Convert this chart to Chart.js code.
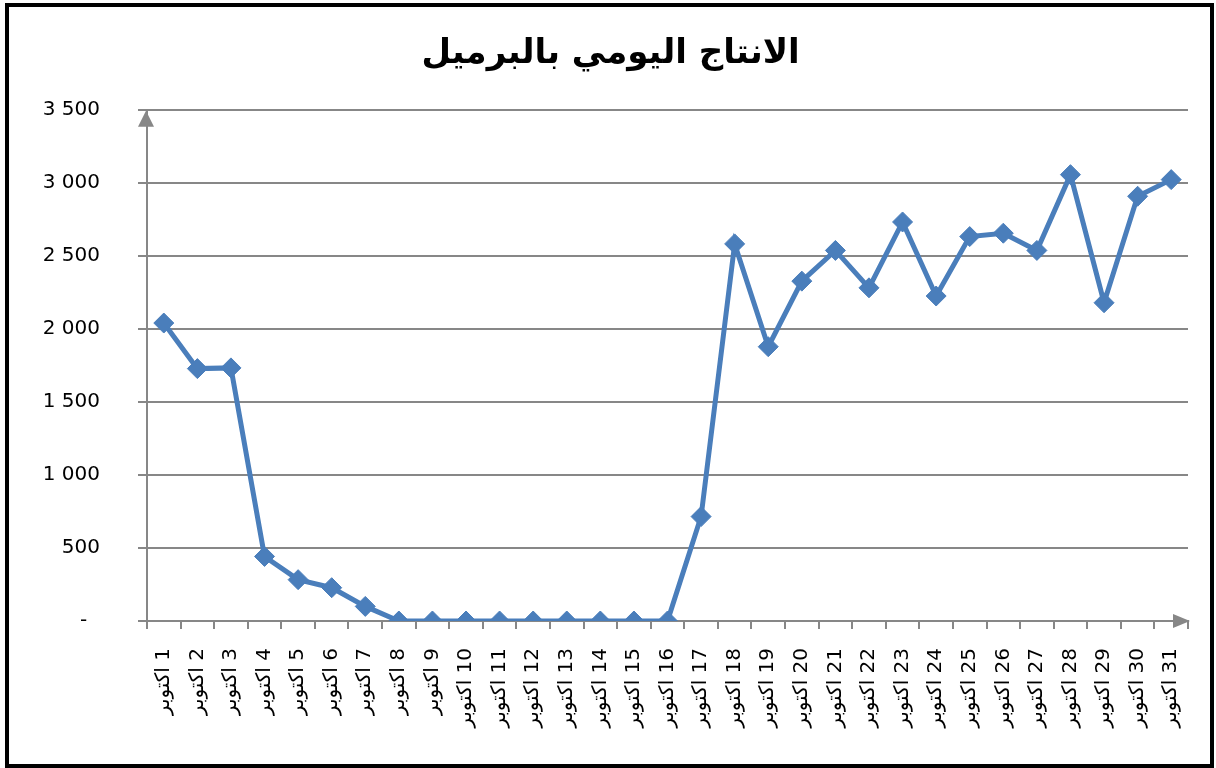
<!DOCTYPE html>
<html>
<head>
<meta charset="utf-8">
<script src="https://cdn.jsdelivr.net/npm/chart.js@4.4.1/dist/chart.umd.min.js"></script>
<style>
  html, body { margin: 0; padding: 0; background: #fff; }
  #wrap { position: relative; width: 1216px; height: 768px; }
  #frame { position: absolute; left: 5px; top: 3px; width: 1209px; height: 765px;
           border: 4px solid #000; box-sizing: border-box; pointer-events: none; }
</style>
</head>
<body>
<div id="wrap">
  <canvas id="myChart" width="1216" height="768"></canvas>
  <div id="frame"></div>
</div>
<script>
// datos del grafico
var chartTitle = 'الانتاج اليومي بالبرميل';
var monthName = 'اكتوبر';
var days = [1, 2, 3, 4, 5, 6, 7, 8, 9, 10, 11, 12, 13, 14, 15, 16,
            17, 18, 19, 20, 21, 22, 23, 24, 25, 26, 27, 28, 29, 30, 31];
var production = [2040, 1728, 1733, 442, 283, 228, 100, 0, 0, 0, 0, 0, 0, 0, 0, 0,
                  715, 2582, 1878, 2327, 2537, 2281, 2732, 2225, 2632, 2655, 2537, 3056, 2179, 2908, 3022];
var yTicks = [0, 500, 1000, 1500, 2000, 2500, 3000, 3500];

var gray = '#878787';
var blue = '#4a7ebb';

// etiquetas: texto de derecha a izquierda
var labels = days.map(function (d) { return '\u202B' + d + ' ' + monthName + '\u202C'; });

function fmt(v) {
  if (v === 0) return '-  ';
  return String(v).replace(/\B(?=(\d{3})+(?!\d))/g, ' ');
}

// flechas al final de los ejes
var arrows = {
  id: 'arrows',
  afterDraw: function (chart) {
    var ctx = chart.ctx, a = chart.chartArea;
    var x0 = a.left - 1;
    ctx.save();
    ctx.fillStyle = gray;
    ctx.beginPath();
    ctx.moveTo(x0, a.top + 1);
    ctx.lineTo(x0 - 8, a.top + 17);
    ctx.lineTo(x0 + 8, a.top + 17);
    ctx.closePath();
    ctx.fill();
    ctx.beginPath();
    ctx.moveTo(a.right + 2, a.bottom);
    ctx.lineTo(a.right - 15, a.bottom - 7);
    ctx.lineTo(a.right - 15, a.bottom + 7);
    ctx.closePath();
    ctx.fill();
    ctx.restore();
  }
};

var ctx = document.getElementById('myChart').getContext('2d');
var myChart = new Chart(ctx, {
  type: 'line',
  data: {
    labels: labels,
    datasets: [{
      data: production,
      borderColor: blue,
      backgroundColor: blue,
      borderWidth: 5,
      pointStyle: 'rectRot',
      pointRadius: 10,
      pointBorderWidth: 1,
      pointBorderColor: blue,
      pointBackgroundColor: blue,
      tension: 0
    }]
  },
  options: {
    responsive: false,
    animation: false,
    layout: { padding: { left: 5, right: 0, top: 0, bottom: 0 } },
    plugins: {
      legend: { display: false },
      tooltip: { enabled: false },
      title: {
        display: true,
        text: chartTitle,
        color: '#000',
        font: { family: 'DejaVu Sans', size: 34, weight: 'bold', lineHeight: 1.2 },
        padding: { top: 34, bottom: 35 }
      }
    },
    scales: {
      x: {
        offset: true,
        grid: { display: true, drawOnChartArea: false, drawTicks: true, tickLength: 8,
                offset: true, color: gray, lineWidth: 2 },
        border: { display: true, color: gray, width: 2 },
        ticks: {
          autoSkip: false, maxRotation: 90, minRotation: 90, padding: 19,
          color: '#000', font: { family: 'DejaVu Sans', size: 20 }
        },
        afterFit: function (scale) { scale.height = 147; }
      },
      y: {
        min: 0,
        max: 3500,
        afterBuildTicks: function (scale) {
          scale.ticks = yTicks.map(function (v) { return { value: v }; });
        },
        grid: { color: gray, lineWidth: 2, tickLength: 9, drawTicks: true },
        border: { display: true, color: gray, width: 2 },
        ticks: {
          padding: 38, color: '#000', font: { family: 'DejaVu Sans', size: 20 },
          callback: function (v) { return fmt(v); }
        },
        afterFit: function (scale) { scale.width = 142; }
      },
      // eje vacio solo para dejar margen a la derecha
      yRight: {
        position: 'right',
        display: true,
        grid: { display: false },
        border: { display: false },
        ticks: { display: false },
        afterFit: function (scale) { scale.width = 28; }
      }
    }
  },
  plugins: [arrows]
});
</script>
</body>
</html>
